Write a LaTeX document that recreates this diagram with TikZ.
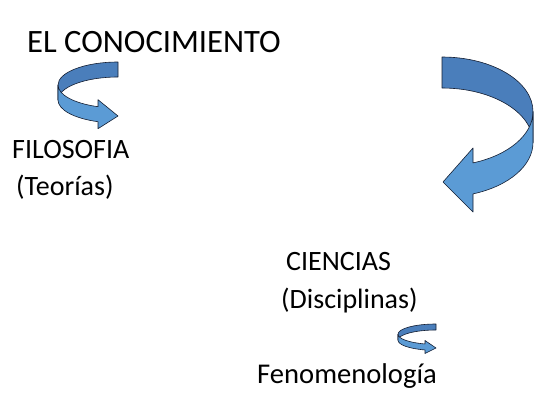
\documentclass[tikz,border=0pt]{standalone}
\usepackage{fontspec}
\setmainfont{Carlito}
\definecolor{bandDark}{RGB}{74,126,187}
\definecolor{bandLight}{RGB}{91,155,213}
\definecolor{outline}{RGB}{20,30,50}
\tikzset{
  backband/.style={fill=bandDark, draw=outline, line width=0.6pt, line join=round},
  frontband/.style={fill=bandLight, draw=outline, line width=0.6pt, line join=round},
  lbl/.style={anchor=base west, inner sep=0pt, font=\fontsize{28}{32}\selectfont},
  titlelbl/.style={anchor=base west, inner sep=0pt, font=\fontsize{32.6}{38}\selectfont},
}
\begin{document}
\begin{tikzpicture}[x=1pt,y=-1pt]
\useasboundingbox (0,0) rectangle (558,418);
\node[titlelbl] (conoc) at (27,52) {EL CONOCIMIENTO};
\node[lbl] (filo) at (12,158) {FILOSOFIA};
\node[lbl] (teor) at (16,195) {(Teorías)};
\node[lbl] (cien) at (286,270) {CIENCIAS};
\node[lbl] (disc) at (281,308) {(Disciplinas)};
\node[lbl, font=\fontsize{28.6}{32}\selectfont] (feno) at (257,383) {Fenomenología};

% arrow 1 (below title)
\draw[backband] (118,62) arc[start angle=270,end angle=180,x radius=60,y radius=23]
  -- ++(0,15) arc[start angle=180,end angle=270,x radius=60,y radius=23] -- cycle;
\draw[frontband] (58,85) arc[start angle=180,end angle=109.47,x radius=60,y radius=23]
  -- (98,99.7) -- (118,116) -- (98,128.7) -- (98,121.7)
  arc[start angle=109.47,end angle=180,x radius=60,y radius=23] -- cycle;

% arrow 2 (large, right)
\draw[backband] (442,57) arc[start angle=270,end angle=360,x radius=91,y radius=54.6]
  -- ++(0,31) arc[start angle=360,end angle=270,x radius=91,y radius=54.6] -- cycle;
\draw[frontband] (533,111.6) arc[start angle=0,end angle=70.08,x radius=91,y radius=54.6]
  -- (473,148) -- (443,182) -- (473,212) -- (473,193.9)
  arc[start angle=70.08,end angle=0,x radius=91,y radius=54.6] -- cycle;

% arrow 3 (small, bottom)
\draw[backband] (436,324) arc[start angle=270,end angle=180,x radius=38,y radius=10.2]
  -- ++(0,6) arc[start angle=180,end angle=270,x radius=38,y radius=10.2] -- cycle;
\draw[frontband] (398,334.2) arc[start angle=180,end angle=106.83,x radius=38,y radius=10.2]
  -- (425,340.5) -- (436,348) -- (425,353.5) -- (425,349.96)
  arc[start angle=106.83,end angle=180,x radius=38,y radius=10.2] -- cycle;
\end{tikzpicture}
\end{document}
